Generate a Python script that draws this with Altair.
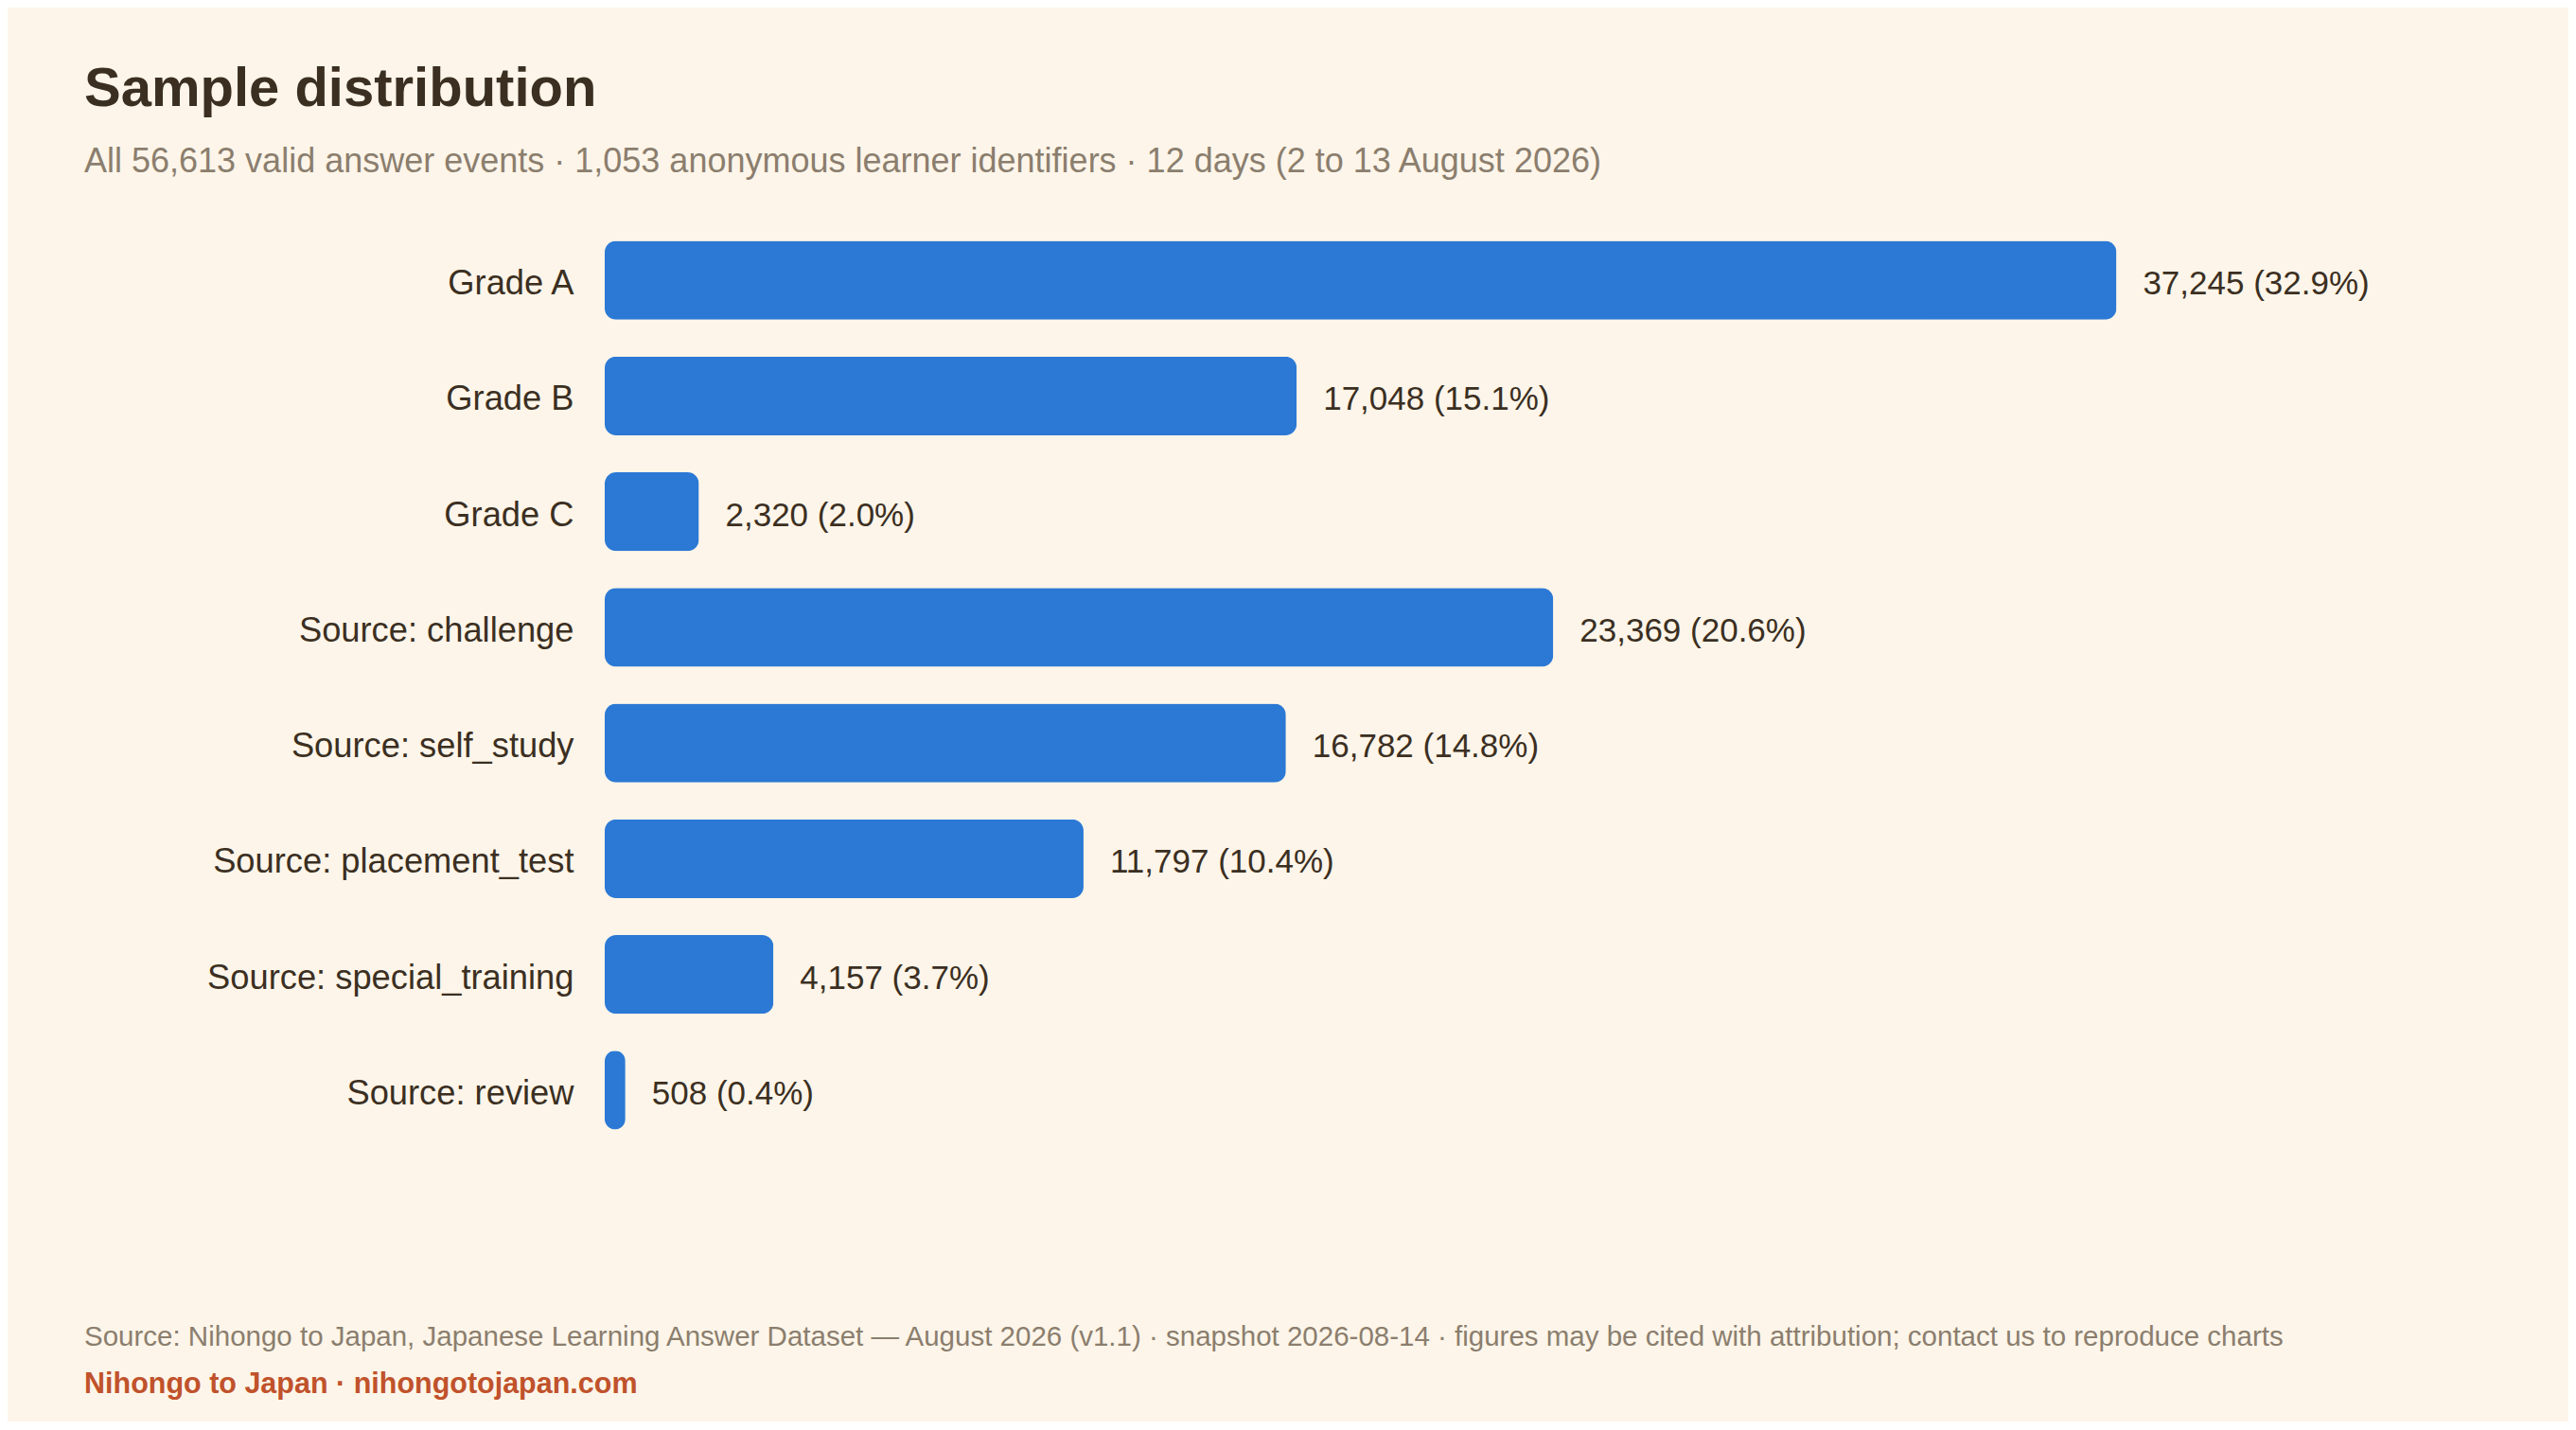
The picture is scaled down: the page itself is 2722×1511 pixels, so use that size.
import altair as alt
import pandas as pd

categories = ["Grade A", "Grade B", "Grade C", "Source: challenge", "Source: self_study",
              "Source: placement_test", "Source: special_training", "Source: review"]
counts = [37245, 17048, 2320, 23369, 16782, 11797, 4157, 508]
percents = [32.9, 15.1, 2.0, 20.6, 14.8, 10.4, 3.7, 0.4]

title_text = "Sample distribution"
subtitle_text = ("All 56,613 valid answer events \u00b7 1,053 anonymous learner identifiers "
                 "\u00b7 12 days (2 to 13 August 2026)")
source_text = ("Source: Nihongo to Japan, Japanese Learning Answer Dataset \u2014 August 2026 (v1.1) "
               "\u00b7 snapshot 2026-08-14 \u00b7 figures may be cited with attribution; "
               "contact us to reproduce charts")
brand_text = "Nihongo to Japan \u00b7 nihongotojapan.com"

FONT = "Liberation Sans"
BG = "#fdf5e9"
BAR = "#2b79d5"
DARK = "#3b2f22"
GREY = "#8b7e6e"
BRAND = "#c0522b"

df = pd.DataFrame({
    "category": categories,
    "count": counts,
    "label": [f"{c:,} ({p:.1f}%)" for c, p in zip(counts, percents)],
})

W, H = 1930, 978

y_enc = alt.Y("category:N", sort=categories,
              scale=alt.Scale(paddingInner=0.32, paddingOuter=0.16),
              axis=alt.Axis(title=None, domain=False, ticks=False, grid=False,
                            labelFont=FONT, labelFontSize=36.3, labelColor=DARK,
                            labelPadding=33, labelLimit=0, labelOffset=4))
x_enc = alt.X("count:Q", scale=alt.Scale(domain=[0, 45000]), axis=None)

bars = alt.Chart(df).mark_bar(color=BAR, cornerRadius=12).encode(x=x_enc, y=y_enc)
values = alt.Chart(df).mark_text(align="left", baseline="middle", dx=28, dy=4,
                                 font=FONT, fontSize=35, color=DARK).encode(
    x=x_enc, y=y_enc, text="label:N")


def fixed_text(txt, xv, yv, size, color, weight="normal"):
    return alt.Chart(pd.DataFrame({"t": [txt]})).mark_text(
        align="left", baseline="alphabetic", font=FONT, fontSize=size,
        color=color, fontWeight=weight).encode(
        x=alt.value(xv), y=alt.value(yv), text="t:N")


title = fixed_text(title_text, -550, -123, 58, DARK, "bold")
subtitle = fixed_text(subtitle_text, -550, -53, 36, GREY)
source = fixed_text(source_text, -550, 1187, 29.5, GREY)
brand = fixed_text(brand_text, -550, 1237, 30.5, BRAND, "bold")

chart = alt.layer(bars, values, title, subtitle, source, brand).properties(
    width=W, height=H,
    background=BG,
    padding={"left": 631, "top": 227, "right": 145, "bottom": 289},
    autosize=alt.AutoSizeParams(type="none"),
).configure_view(stroke=None)

chart.save("out.html", embed_options={"renderer": "svg", "actions": False})
